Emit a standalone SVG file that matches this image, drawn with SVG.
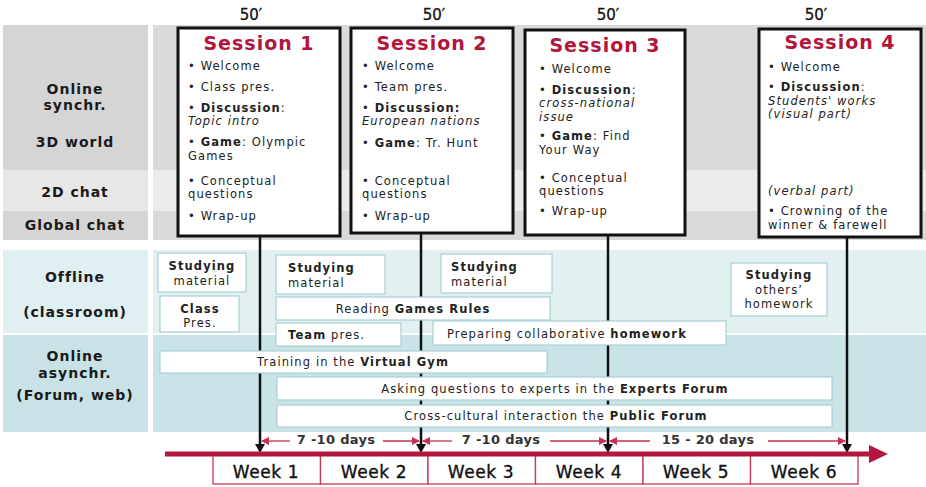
<svg xmlns="http://www.w3.org/2000/svg" width="926" height="487" viewBox="0 0 926 487">
  <style>
    .t { font-family: "DejaVu Sans", Verdana, sans-serif; font-size: 11.5px; letter-spacing: 1.1px; fill: #222; }
    .b { font-weight: bold; }
    .i { font-style: italic; }
    .mid { text-anchor: middle; }
    .lab { font-family: "DejaVu Sans", Verdana, sans-serif; font-size: 14px; font-weight: bold; letter-spacing: 1px; text-anchor: middle; fill: #1a1a1a; }
    .ttl { font-family: "DejaVu Sans", Verdana, sans-serif; font-size: 19px; font-weight: bold; letter-spacing: 1px; text-anchor: middle; fill: #b3163d; }
    .dur { font-family: "DejaVu Sans", Verdana, sans-serif; font-size: 13px; font-weight: bold; letter-spacing: 0.3px; text-anchor: middle; fill: #333; }
    .min { font-family: "DejaVu Sans", Verdana, sans-serif; font-size: 15px; text-anchor: middle; fill: #111; stroke: #111; stroke-width: 0.3; }
    .wkt { font-family: "DejaVu Sans", Verdana, sans-serif; font-size: 17px; letter-spacing: 0.6px; text-anchor: middle; fill: #111; stroke: #111; stroke-width: 0.35; }
    .sess { fill: #fff; stroke: #111; stroke-width: 3; }
    .act { fill: #fff; stroke: #a9d0d6; stroke-width: 1.2; }
    .wk { fill: #fff; stroke: #c23a55; stroke-width: 1.3; }
    .vline { stroke: #111; stroke-width: 2.5; fill: none; }
    .span { stroke: #c8304f; stroke-width: 1.3; fill: none; }
  </style>
  <defs>
    <marker id="down" markerUnits="userSpaceOnUse" markerWidth="10" markerHeight="10" refX="1" refY="5" orient="auto">
      <path d="M0,0 L9,5 L0,10 z" fill="#111"/>
    </marker>
    <marker id="tip" markerUnits="userSpaceOnUse" markerWidth="8" markerHeight="8" refX="7" refY="4" orient="auto">
      <path d="M0,0 L8,4 L0,8 z" fill="#c8304f"/>
    </marker>
  </defs>

  <!-- background bands -->
  <g id="bands">
    <!-- online synchronous: 3D world / 2D chat / global chat -->
    <rect x="3" y="25" width="145" height="145" fill="#d5d5d5"/>
    <rect x="3" y="170" width="145" height="41" fill="#e7e7e7"/>
    <rect x="3" y="211" width="145" height="29" fill="#d5d5d5"/>
    <rect x="153" y="25" width="773" height="145" fill="#d9d9d9"/>
    <rect x="153" y="170" width="773" height="41" fill="#ebebeb"/>
    <rect x="153" y="211" width="773" height="29" fill="#d9d9d9"/>
    <!-- offline -->
    <rect x="3" y="250" width="145" height="83" fill="#e0eff1"/>
    <rect x="153" y="250" width="773" height="83" fill="#e2f0f2"/>
    <!-- online asynchronous -->
    <rect x="3" y="335" width="145" height="97" fill="#c8e2e6"/>
    <rect x="153" y="335" width="773" height="97" fill="#c9e3e7"/>
  </g>

  <!-- row labels -->
  <g id="row-labels">
    <text class="lab" x="75" y="93.5">Online</text>
    <text class="lab" x="75" y="110">synchr.</text>
    <text class="lab" x="75" y="147">3D world</text>
    <text class="lab" x="75" y="197">2D chat</text>
    <text class="lab" x="75" y="230">Global chat</text>
    <text class="lab" x="75" y="282">Offline</text>
    <text class="lab" x="75" y="317">(classroom)</text>
    <text class="lab" x="75" y="361">Online</text>
    <text class="lab" x="75" y="378">asynchr.</text>
    <text class="lab" x="75" y="400">(Forum, web)</text>
  </g>

  <!-- session markers down to the timeline -->
  <g id="connectors">
    <line class="vline" x1="260" y1="236" x2="260" y2="445" marker-end="url(#down)"/>
    <line class="vline" x1="421" y1="234" x2="421" y2="445" marker-end="url(#down)"/>
    <line class="vline" x1="608" y1="235" x2="608" y2="445" marker-end="url(#down)"/>
    <line class="vline" x1="847" y1="236" x2="847" y2="445" marker-end="url(#down)"/>
    <!-- intervals between sessions -->
    <line class="span" x1="290" y1="441" x2="262" y2="441" marker-end="url(#tip)"/>
    <line class="span" x1="383" y1="441" x2="419" y2="441" marker-end="url(#tip)"/>
    <line class="span" x1="452" y1="441" x2="423" y2="441" marker-end="url(#tip)"/>
    <line class="span" x1="550" y1="441" x2="606" y2="441" marker-end="url(#tip)"/>
    <line class="span" x1="650" y1="441" x2="610" y2="441" marker-end="url(#tip)"/>
    <line class="span" x1="768" y1="441" x2="845" y2="441" marker-end="url(#tip)"/>
  </g>

  <g id="interval-labels">
    <text class="dur" x="336" y="444">7 -10 days</text>
    <text class="dur" x="501" y="444">7 -10 days</text>
    <text class="dur" x="708" y="444">15 - 20 days</text>
  </g>

  <!-- session durations -->
  <g id="durations">
    <text class="min" x="251" y="20">50′</text>
    <text class="min" x="434" y="20">50′</text>
    <text class="min" x="608" y="20">50′</text>
    <text class="min" x="816" y="20">50′</text>
  </g>

  <g id="session-1">
    <rect class="sess" x="178" y="28" width="162" height="208"/>
    <text class="ttl" x="259" y="50">Session 1</text>
    <text class="t" x="188" y="70">• Welcome</text>
    <text class="t" x="188" y="91">• Class pres.</text>
    <text class="t" x="188" y="111.5">• <tspan class="b">Discussion</tspan>:</text>
    <text class="t i" x="188" y="125">Topic intro</text>
    <text class="t" x="188" y="146">• <tspan class="b">Game</tspan>:  Olympic</text>
    <text class="t" x="188" y="159.5">Games</text>
    <text class="t" x="188" y="184.5">• Conceptual</text>
    <text class="t" x="188" y="198">questions</text>
    <text class="t" x="188" y="220">• Wrap-up</text>
  </g>

  <g id="session-2">
    <rect class="sess" x="351" y="28" width="162" height="205"/>
    <text class="ttl" x="432" y="50">Session 2</text>
    <text class="t" x="362" y="70">• Welcome</text>
    <text class="t" x="362" y="91">• Team pres.</text>
    <text class="t" x="362" y="111.5">• <tspan class="b">Discussion:</tspan></text>
    <text class="t i" x="362" y="125">European nations</text>
    <text class="t" x="362" y="147">• <tspan class="b">Game</tspan>: Tr. Hunt</text>
    <text class="t" x="362" y="184.5">• Conceptual</text>
    <text class="t" x="362" y="198">questions</text>
    <text class="t" x="362" y="220">• Wrap-up</text>
  </g>

  <g id="session-3">
    <rect class="sess" x="525" y="30" width="160" height="205"/>
    <text class="ttl" x="605" y="52">Session 3</text>
    <text class="t" x="539" y="73">• Welcome</text>
    <text class="t" x="539" y="93.5">• <tspan class="b">Discussion</tspan>:</text>
    <text class="t i" x="539" y="107">cross-national</text>
    <text class="t i" x="539" y="120.5">issue</text>
    <text class="t" x="539" y="140">• <tspan class="b">Game</tspan>: Find</text>
    <text class="t" x="539" y="153.5">Your Way</text>
    <text class="t" x="539" y="181.5">• Conceptual</text>
    <text class="t" x="539" y="195">questions</text>
    <text class="t" x="539" y="215">• Wrap-up</text>
  </g>

  <g id="session-4">
    <rect class="sess" x="759" y="29" width="162" height="208"/>
    <text class="ttl" x="840" y="49">Session 4</text>
    <text class="t" x="768" y="71">• Welcome</text>
    <text class="t" x="768" y="91">• <tspan class="b">Discussion</tspan>:</text>
    <text class="t i" x="768" y="104.5">Students' works</text>
    <text class="t i" x="768" y="118">(visual part)</text>
    <text class="t i" x="768" y="195">(verbal part)</text>
    <text class="t" x="768" y="215">• Crowning of the</text>
    <text class="t" x="768" y="228.5">winner &amp; farewell</text>
  </g>

  <!-- offline (classroom) activities -->
  <g id="studying-1">
    <rect class="act" x="158" y="253" width="88" height="39"/>
    <text class="t b mid" x="202" y="270">Studying</text>
    <text class="t mid" x="202" y="285">material</text>
  </g>
  <g id="class-pres">
    <rect class="act" x="160" y="296" width="79" height="36"/>
    <text class="t b mid" x="200" y="313">Class</text>
    <text class="t mid" x="200" y="327">Pres.</text>
  </g>
  <g id="studying-2">
    <rect class="act" x="276" y="255" width="109" height="39"/>
    <text class="t b" x="288" y="272">Studying</text>
    <text class="t" x="288" y="287">material</text>
  </g>
  <g id="studying-3">
    <rect class="act" x="441" y="254" width="111" height="39"/>
    <text class="t b" x="451" y="271">Studying</text>
    <text class="t" x="451" y="286">material</text>
  </g>
  <g id="games-rules">
    <rect class="act" x="276" y="297" width="274" height="23"/>
    <text class="t mid" x="413" y="313">Reading <tspan class="b">Games Rules</tspan></text>
  </g>
  <g id="team-pres">
    <rect class="act" x="276" y="323" width="125" height="23"/>
    <text class="t" x="288" y="339"><tspan class="b">Team</tspan> pres.</text>
  </g>
  <g id="homework">
    <rect class="act" x="433" y="321" width="293" height="24"/>
    <text class="t" x="447" y="338">Preparing collaborative <tspan class="b">homework</tspan></text>
  </g>
  <g id="studying-4">
    <rect class="act" x="731" y="263" width="96" height="53"/>
    <text class="t b mid" x="779" y="279">Studying</text>
    <text class="t mid" x="779" y="294">others’</text>
    <text class="t mid" x="779" y="308">homework</text>
  </g>

  <!-- online asynchronous activities -->
  <g id="virtual-gym">
    <rect class="act" x="160" y="351" width="387" height="22"/>
    <text class="t mid" x="353" y="366">Training in the <tspan class="b">Virtual Gym</tspan></text>
  </g>
  <g id="experts-forum">
    <rect class="act" x="277" y="377" width="555" height="23"/>
    <text class="t mid" x="555" y="393">Asking questions to experts in the <tspan class="b">Experts Forum</tspan></text>
  </g>
  <g id="public-forum">
    <rect class="act" x="277" y="405" width="555" height="22"/>
    <text class="t mid" x="556" y="420">Cross-cultural interaction the <tspan class="b">Public Forum</tspan></text>
  </g>

  <!-- week scale -->
  <g id="weeks">
    <rect class="wk" x="213" y="454" width="107.5" height="30"/>
    <rect class="wk" x="320.5" y="454" width="107.5" height="30"/>
    <rect class="wk" x="428" y="454" width="107.5" height="30"/>
    <rect class="wk" x="535.5" y="454" width="107.5" height="30"/>
    <rect class="wk" x="643" y="454" width="107.5" height="30"/>
    <rect class="wk" x="750.5" y="454" width="107.5" height="30"/>
    <text class="wkt" x="266" y="478">Week 1</text>
    <text class="wkt" x="374" y="478">Week 2</text>
    <text class="wkt" x="481" y="478">Week 3</text>
    <text class="wkt" x="589" y="478">Week 4</text>
    <text class="wkt" x="696" y="478">Week 5</text>
    <text class="wkt" x="804" y="478">Week 6</text>
  </g>

  <g id="timeline">
    <line x1="165" y1="454" x2="872" y2="454" stroke="#b5163d" stroke-width="5"/>
    <path d="M869,445 L888,454 L869,463 z" fill="#b5163d"/>
  </g>
</svg>
